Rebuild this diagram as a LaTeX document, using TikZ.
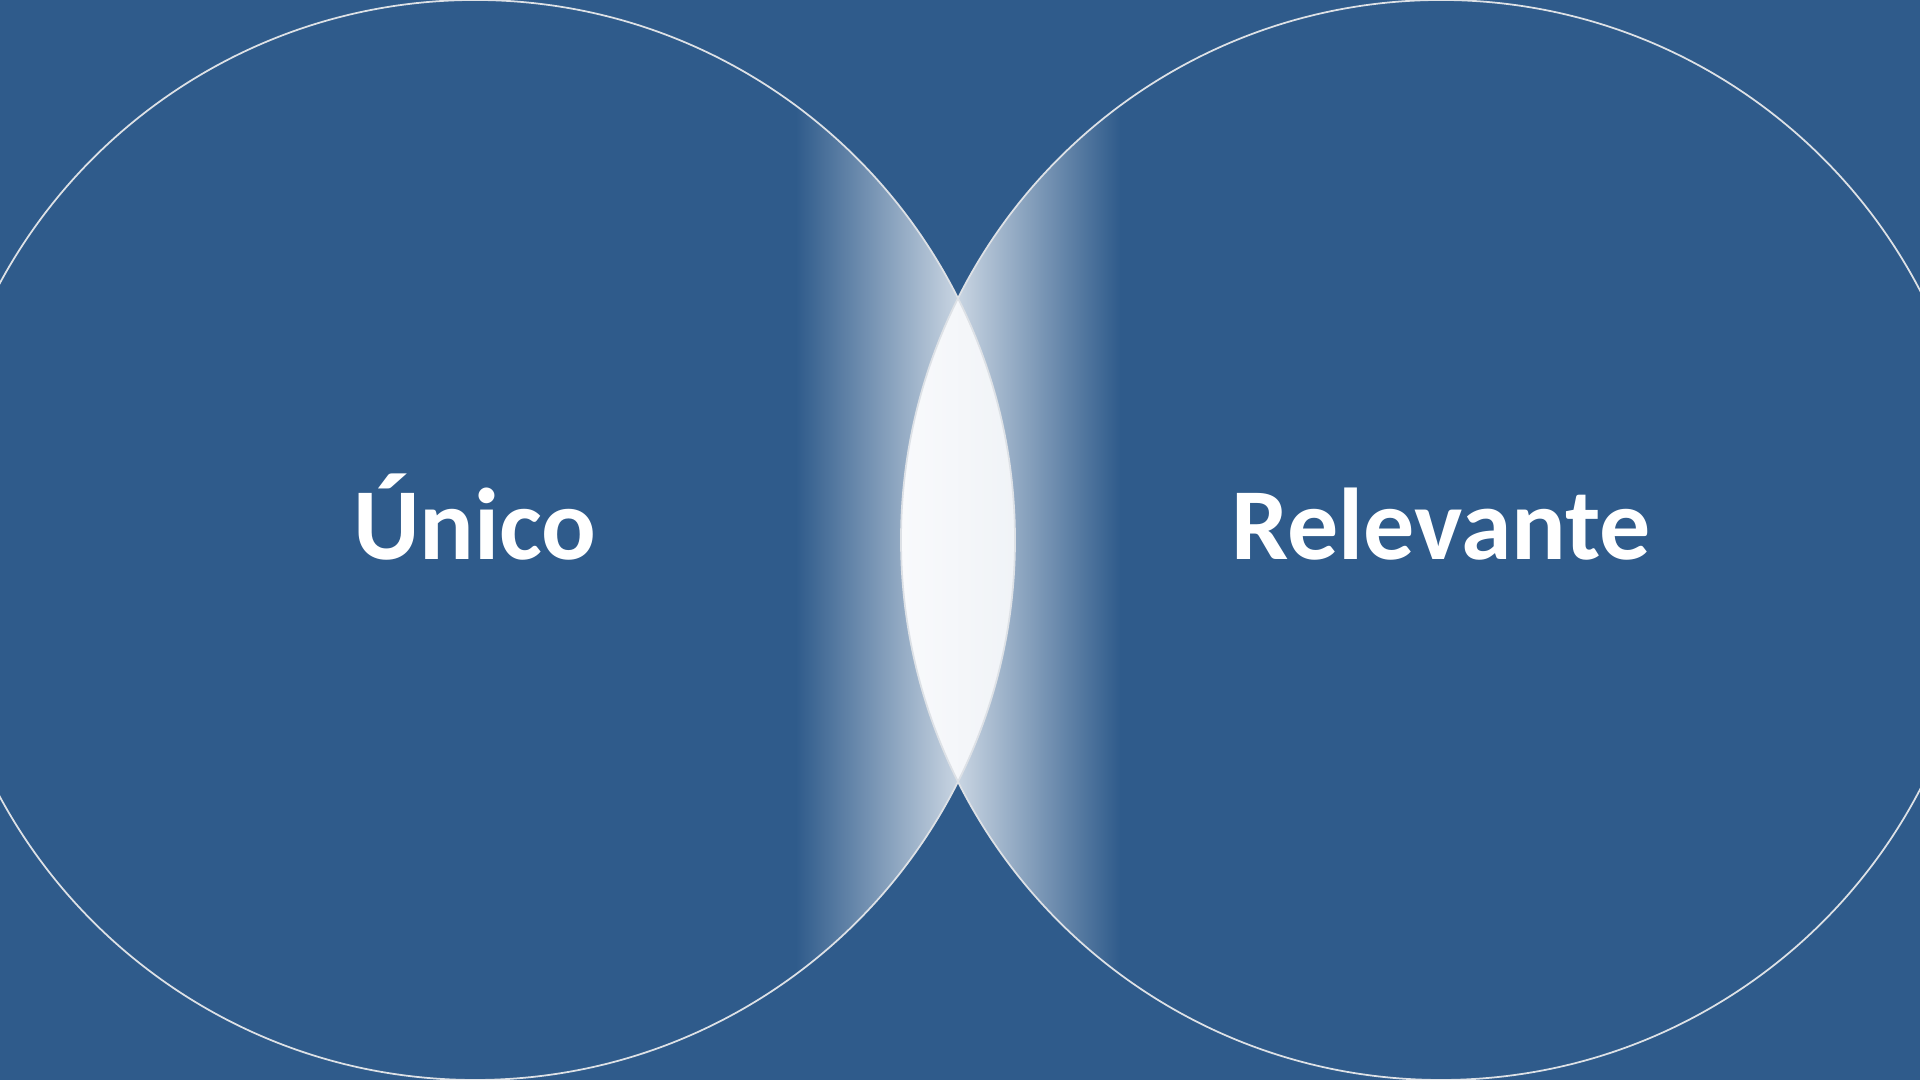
\documentclass[tikz,border=0pt]{standalone}
\usepackage{fontspec}
\setmainfont{Carlito}
\usepackage{tikz}
\definecolor{bgblue}{HTML}{2F5B8B}
\definecolor{fadewhite}{HTML}{C9D5E2}
\definecolor{lensleft}{HTML}{F9FAFC}
\definecolor{lensfill}{HTML}{F0F3F7}
\definecolor{ringgray}{HTML}{DDE1E6}
\begin{document}
\begin{tikzpicture}[x=0.01cm,y=0.01cm]
\useasboundingbox (0,0) rectangle (1920,1080);
\fill[bgblue] (0,0) rectangle (1920,1080);
\begin{scope}
\clip (475,540) circle (540);
\shade[left color=bgblue,right color=fadewhite] (796,0) rectangle (958,1080);
\fill[white] (958,0) rectangle (1020,1080);
\end{scope}
\begin{scope}
\clip (1441,540) circle (540);
\shade[left color=fadewhite,right color=bgblue] (958,0) rectangle (1120,1080);
\end{scope}
\begin{scope}
\clip (475,540) circle (540);
\clip (1441,540) circle (540);
\shade[left color=lensleft,right color=lensfill] (900,0) rectangle (1016,1080);
\end{scope}
\draw[ringgray,line width=0.5pt] (475,540) circle (540);
\draw[ringgray,line width=0.5pt] (1441,540) circle (540);
\node[font=\fontsize{29}{35}\selectfont\bfseries,text=white,anchor=base] (unico) at (475,520) {Único};
\node[font=\fontsize{29}{35}\selectfont\bfseries,text=white,anchor=base] (relevante) at (1441,520) {Relevante};
\end{tikzpicture}
\end{document}
